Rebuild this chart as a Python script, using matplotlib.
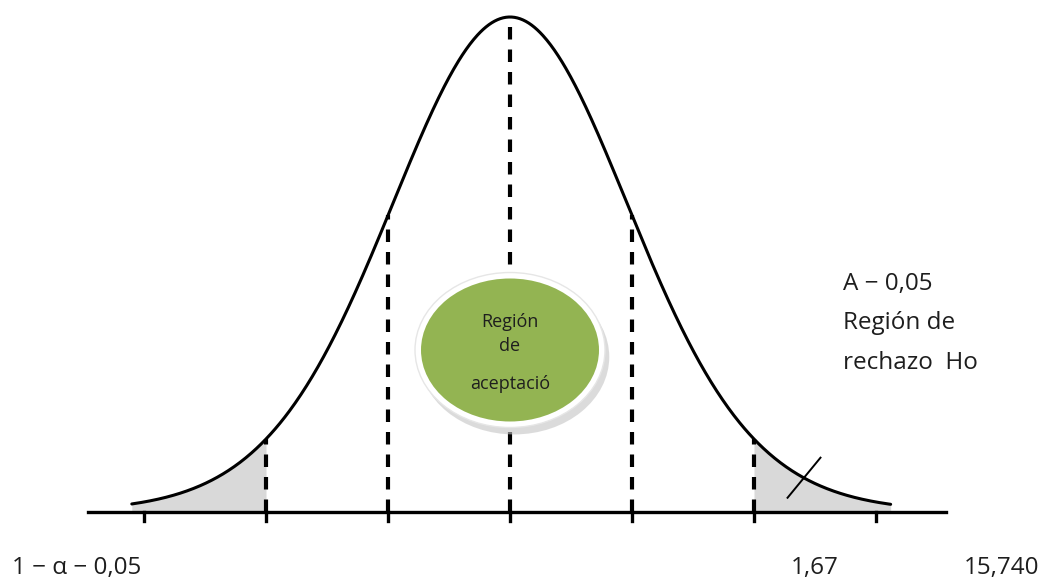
import math
import numpy as np
import matplotlib
matplotlib.use("Agg")
import matplotlib.pyplot as plt
from matplotlib.patches import Ellipse

# ---- data ----
df = 20                                  # shape of the bell curve
curve_start, curve_end = -3.1, 3.12      # extent of the drawn curve (z units)
tick_positions = [-3, -2, -1, 0, 1, 2, 3]
dashed_positions = [-2, -1, 0, 1, 2]
left_shade = (-3.1, -2)
right_shade = (2, 3.12)
ellipse_lines = ["Región", "de", "aceptació"]
right_lines = ["A − 0,05", "Región de", "rechazo  Ho"]
bottom_labels = ["1 − α − 0,05", "1,67", "15,740"]

FONT = ["Open Sans", "DejaVu Sans"]


def bell(z):
    z = np.asarray(z, dtype=float)
    return (1 + z ** 2 / df) ** (-(df + 1) / 2)


fig = plt.figure(figsize=(10.47, 5.80), dpi=100)
ax = fig.add_axes([0, 0, 1, 1])
px = 122.0            # pixels per z unit
cx = 510.0            # pixel of z=0
base_px, peak_px = 512.0, 17.0
hscale = base_px - peak_px
ax.set_xlim(-cx / px, (1047 - cx) / px)
ax.set_ylim(-(580 - base_px) / hscale, base_px / hscale)
ax.axis("off")

# shaded tails
for a, b in (left_shade, right_shade):
    zz = np.linspace(a, b, 200)
    ax.fill_between(zz, 0, bell(zz), color="#d9d9d9", lw=0, zorder=1)

# curve
z = np.linspace(curve_start, curve_end, 800)
ax.plot(z, bell(z), color="black", lw=2.2, solid_capstyle="round", zorder=4)

# dashed verticals
for d in dashed_positions:
    ax.plot([d, d], [0, bell(d)], color="black", lw=3.0,
            dashes=(3.0, 2.4), zorder=3)

# baseline and ticks
ax.plot([-3.46, 3.57], [0, 0], color="black", lw=2.4, zorder=5)
for t in tick_positions:
    ax.plot([t, t], [0, -0.018], color="black", lw=2.4, zorder=5)

# slash mark on the right tail
zs = 2.41
ax.plot([zs - 0.135, zs + 0.135], [bell(zs) - 0.040, bell(zs) + 0.041],
        color="black", lw=1.4, zorder=6)

# ellipse "Región de aceptació"
ecx, ecy = 0.0, (base_px - 350) / hscale
ew, eh = 190 / px, 155 / hscale
ax.add_patch(Ellipse((ecx + 0.035, ecy - 0.014), ew, eh, facecolor="#c4c4c4",
                     edgecolor="none", alpha=0.6, zorder=6))
ax.add_patch(Ellipse((ecx, ecy), ew, eh, facecolor="white",
                     edgecolor="#e6e6e6", lw=1, zorder=7))
ax.add_patch(Ellipse((ecx, ecy), ew - 12 / px, eh - 12 / hscale,
                     facecolor="#93b452", edgecolor="none", zorder=8))
for txt, ypx in zip(ellipse_lines, [322, 346, 384]):
    ax.text(0.0, (base_px - ypx) / hscale, txt, ha="center", va="center",
            fontsize=13, color="#1e1e1e", family=FONT, zorder=9)

# right annotation
for txt, ypx in zip(right_lines, [284, 323, 363]):
    ax.text((843 - cx) / px, (base_px - ypx) / hscale, txt, ha="left",
            va="center", fontsize=17.5, color="#1e1e1e", family=FONT)

# bottom labels
for txt, xpx, ha in zip(bottom_labels, [12, 815, 1002],
                        ["left", "center", "center"]):
    ax.text((xpx - cx) / px, (base_px - 568) / hscale, txt, ha=ha,
            va="center", fontsize=17.5, color="#1e1e1e", family=FONT)

fig.savefig("out.png", dpi=100, facecolor="white")
